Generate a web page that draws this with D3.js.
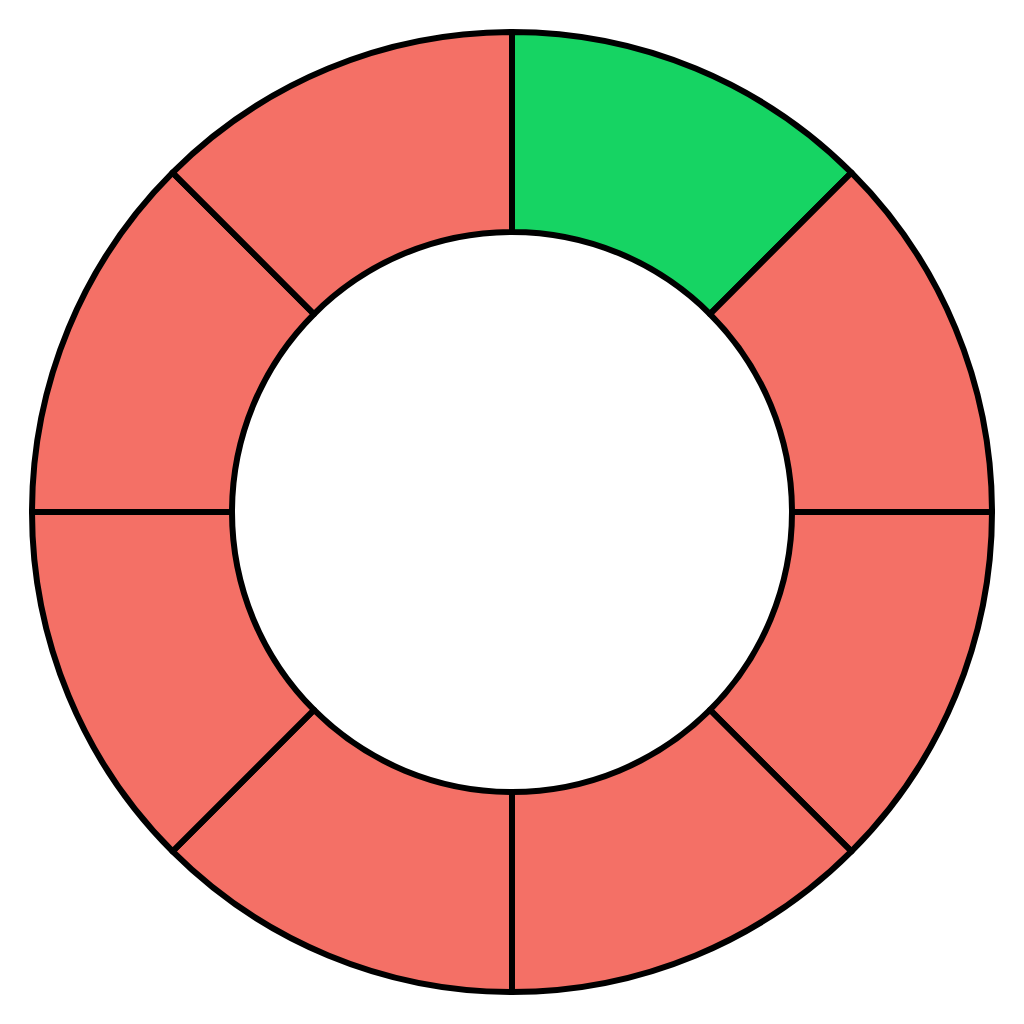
<!DOCTYPE html>
<html>
<meta charset="UTF-8">
<script src="https://d3js.org/d3.v7.min.js"></script>
<style>
    body { margin: 0; background: #fff; }
    svg { display: block; }
</style>
<body>
<svg width="1024" height="1024"></svg>
<script>
    // eight equal segments, first one highlighted
    var segments = ["s1", "s2", "s3", "s4", "s5", "s6", "s7", "s8"];
    var values = [1, 1, 1, 1, 1, 1, 1, 1];
    var segState = ["on", "off", "off", "off", "off", "off", "off", "off"];

    var colours = d3.scaleOrdinal()
        .domain(["on", "off"])
        .range(["#16D463", "#F47066"]);

    var data = segments.map((s, i) => ({ name: s, value: values[i], state: segState[i] }));

    const svg = d3.select("svg"),
        cx = 512, cy = 512,
        outer = 480, inner = 280;

    var pie = d3.pie().value(d => d.value).sort(null);
    var arc = d3.arc().innerRadius(inner).outerRadius(outer);

    var g = svg.append("g").attr("transform", `translate(${cx},${cy})`);

    g.selectAll("path")
        .data(pie(data))
        .enter().append("path")
        .attr("d", arc)
        .attr("fill", d => colours(d.data.state))
        .attr("stroke", "#000")
        .attr("stroke-width", 6)
        .attr("stroke-linejoin", "round");
</script>
</body></html>
